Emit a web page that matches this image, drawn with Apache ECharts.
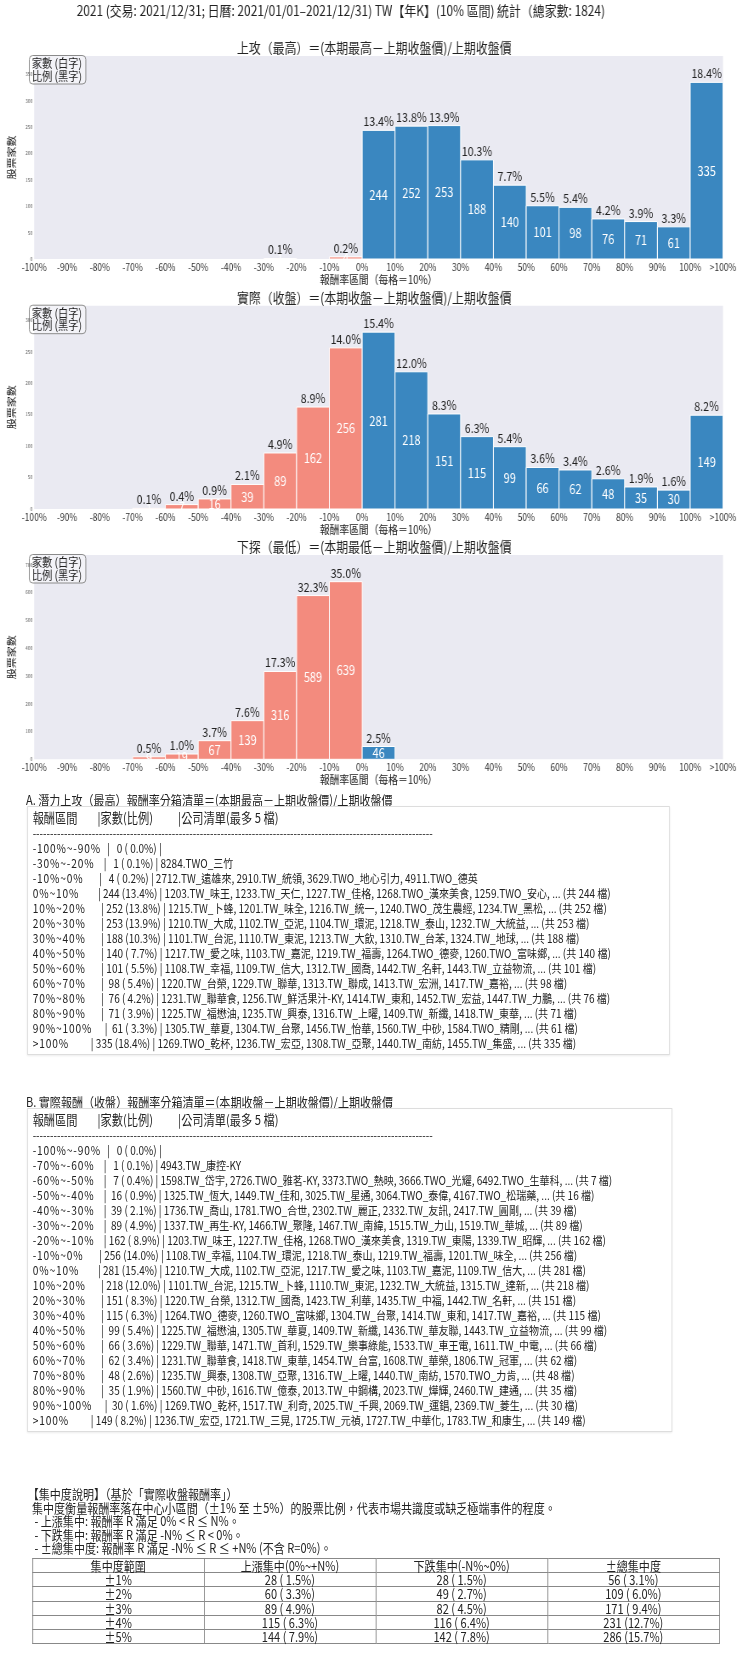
<!DOCTYPE html>
<html><head><meta charset="utf-8">
<script src="https://cdn.jsdelivr.net/npm/echarts/dist/echarts.min.js"></script>
<style>
html,body{margin:0;padding:0;background:#fff;}
body{width:740px;height:1666px;overflow:hidden;position:relative;}
#page{position:absolute;left:0;top:0;width:870.6px;height:1666px;transform:scaleX(0.85);transform-origin:0 0;font-family:'Noto Sans CJK TC','Noto Sans CJK SC',sans-serif;color:#222;}
#chart{position:absolute;left:0;top:0;width:870.6px;height:795px;}
.h{position:absolute;left:30.6px;font-size:13px;line-height:18px;white-space:pre;}
.box{position:absolute;left:32.4px;box-sizing:border-box;border:1px solid #ddd;box-shadow:0 1px 2px rgba(0,0,0,0.08);padding:2.5px 0 0 5px;font-size:11.8px;line-height:15px;white-space:pre;background:#fff;}
.box .hd{font-size:13.2px;}
.box .lb{font-size:12px;letter-spacing:1px;}
#conc{position:absolute;left:37.6px;top:1487px;font-size:13px;line-height:13.5px;white-space:pre;}
#conc div:first-child{margin-left:-5px;}
#tbl{position:absolute;left:37.6px;top:1558px;width:809px;border-collapse:collapse;font-size:13px;}
#tbl td{border:1px solid #888;height:13.2px;line-height:13px;padding:0;text-align:center;width:25%;white-space:pre;}
</style>
</head><body>
<div id="page">
<div id="chart"></div>
<div class="h" id="hA" style="top:791px"></div>
<div class="box" id="boxA" style="top:806px;width:756px;height:249px"></div>
<div class="h" id="hB" style="top:1093px"></div>
<div class="box" id="boxB" style="top:1108px;width:759px;height:324px"></div>
<div id="conc"></div>
<table id="tbl"></table>
</div>
<script>
// ---------------- data ----------------
const TOTAL = 1824;
const tickLabels = ['-100%','-90%','-80%','-70%','-60%','-50%','-40%','-30%','-20%','-10%','0%','10%','20%','30%','40%','50%','60%','70%','80%','90%','100%','>100%'];
const highCounts  = [0,0,0,0,0,0,0,1,0,4,244,252,253,188,140,101,98,76,71,61,335];
const closeCounts = [0,0,0,1,7,16,39,89,162,256,281,218,151,115,99,66,62,48,35,30,149];
const lowCounts   = [0,0,0,9,19,67,139,316,589,639,46,0,0,0,0,0,0,0,0,0,0];
const chartTitles = ['上攻（最高）＝(本期最高－上期收盤價)/上期收盤價','實際（收盤）＝(本期收盤－上期收盤價)/上期收盤價','下探（最低）＝(本期最低－上期收盤價)/上期收盤價'];
const mainTitle = '2021 (交易: 2021/12/31; 日曆: 2021/01/01–2021/12/31) TW【年K】(10% 區間) 統計（總家數: 1824)';
const xName = '報酬率區間（每格＝10%）';
const yName = '股票家數';

const listALabels = ['-100%~-90%','-30%~-20%','-10%~0%','0%~10%','10%~20%','20%~30%','30%~40%','40%~50%','50%~60%','60%~70%','70%~80%','80%~90%','90%~100%','>100%'];
const listACounts = [0,1,4,244,252,253,188,140,101,98,76,71,61,335];
const listANames = [
 '',
 '8284.TWO_三竹',
 '2712.TW_遠雄來, 2910.TW_統領, 3629.TWO_地心引力, 4911.TWO_德英',
 '1203.TW_味王, 1233.TW_天仁, 1227.TW_佳格, 1268.TWO_漢來美食, 1259.TWO_安心, ... (共 244 檔)',
 '1215.TW_卜蜂, 1201.TW_味全, 1216.TW_統一, 1240.TWO_茂生農經, 1234.TW_黑松, ... (共 252 檔)',
 '1210.TW_大成, 1102.TW_亞泥, 1104.TW_環泥, 1218.TW_泰山, 1232.TW_大統益, ... (共 253 檔)',
 '1101.TW_台泥, 1110.TW_東泥, 1213.TW_大飲, 1310.TW_台苯, 1324.TW_地球, ... (共 188 檔)',
 '1217.TW_愛之味, 1103.TW_嘉泥, 1219.TW_福壽, 1264.TWO_德麥, 1260.TWO_富味鄉, ... (共 140 檔)',
 '1108.TW_幸福, 1109.TW_信大, 1312.TW_國喬, 1442.TW_名軒, 1443.TW_立益物流, ... (共 101 檔)',
 '1220.TW_台榮, 1229.TW_聯華, 1313.TW_聯成, 1413.TW_宏洲, 1417.TW_嘉裕, ... (共 98 檔)',
 '1231.TW_聯華食, 1256.TW_鮮活果汁-KY, 1414.TW_東和, 1452.TW_宏益, 1447.TW_力鵬, ... (共 76 檔)',
 '1225.TW_福懋油, 1235.TW_興泰, 1316.TW_上曜, 1409.TW_新纖, 1418.TW_東華, ... (共 71 檔)',
 '1305.TW_華夏, 1304.TW_台聚, 1456.TW_怡華, 1560.TW_中砂, 1584.TWO_精剛, ... (共 61 檔)',
 '1269.TWO_乾杯, 1236.TW_宏亞, 1308.TW_亞聚, 1440.TW_南紡, 1455.TW_集盛, ... (共 335 檔)'
];
const listBLabels = ['-100%~-90%','-70%~-60%','-60%~-50%','-50%~-40%','-40%~-30%','-30%~-20%','-20%~-10%','-10%~0%','0%~10%','10%~20%','20%~30%','30%~40%','40%~50%','50%~60%','60%~70%','70%~80%','80%~90%','90%~100%','>100%'];
const listBCounts = [0,1,7,16,39,89,162,256,281,218,151,115,99,66,62,48,35,30,149];
const listBNames = [
 '',
 '4943.TW_康控-KY',
 '1598.TW_岱宇, 2726.TWO_雅茗-KY, 3373.TWO_熱映, 3666.TWO_光耀, 6492.TWO_生華科, ... (共 7 檔)',
 '1325.TW_恆大, 1449.TW_佳和, 3025.TW_星通, 3064.TWO_泰偉, 4167.TWO_松瑞藥, ... (共 16 檔)',
 '1736.TW_喬山, 1781.TWO_合世, 2302.TW_麗正, 2332.TW_友訊, 2417.TW_圓剛, ... (共 39 檔)',
 '1337.TW_再生-KY, 1466.TW_聚隆, 1467.TW_南緯, 1515.TW_力山, 1519.TW_華城, ... (共 89 檔)',
 '1203.TW_味王, 1227.TW_佳格, 1268.TWO_漢來美食, 1319.TW_東陽, 1339.TW_昭輝, ... (共 162 檔)',
 '1108.TW_幸福, 1104.TW_環泥, 1218.TW_泰山, 1219.TW_福壽, 1201.TW_味全, ... (共 256 檔)',
 '1210.TW_大成, 1102.TW_亞泥, 1217.TW_愛之味, 1103.TW_嘉泥, 1109.TW_信大, ... (共 281 檔)',
 '1101.TW_台泥, 1215.TW_卜蜂, 1110.TW_東泥, 1232.TW_大統益, 1315.TW_達新, ... (共 218 檔)',
 '1220.TW_台榮, 1312.TW_國喬, 1423.TW_利華, 1435.TW_中福, 1442.TW_名軒, ... (共 151 檔)',
 '1264.TWO_德麥, 1260.TWO_富味鄉, 1304.TW_台聚, 1414.TW_東和, 1417.TW_嘉裕, ... (共 115 檔)',
 '1225.TW_福懋油, 1305.TW_華夏, 1409.TW_新纖, 1436.TW_華友聯, 1443.TW_立益物流, ... (共 99 檔)',
 '1229.TW_聯華, 1471.TW_首利, 1529.TW_樂事綠能, 1533.TW_車王電, 1611.TW_中電, ... (共 66 檔)',
 '1231.TW_聯華食, 1418.TW_東華, 1454.TW_台富, 1608.TW_華榮, 1806.TW_冠軍, ... (共 62 檔)',
 '1235.TW_興泰, 1308.TW_亞聚, 1316.TW_上曜, 1440.TW_南紡, 1570.TWO_力肯, ... (共 48 檔)',
 '1560.TW_中砂, 1616.TW_億泰, 2013.TW_中鋼構, 2023.TW_燁輝, 2460.TW_建通, ... (共 35 檔)',
 '1269.TWO_乾杯, 1517.TW_利奇, 2025.TW_千興, 2069.TW_運錩, 2369.TW_菱生, ... (共 30 檔)',
 '1236.TW_宏亞, 1721.TW_三晃, 1725.TW_元禎, 1727.TW_中華化, 1783.TW_和康生, ... (共 149 檔)'
];
const headA = 'A. 潛力上攻（最高）報酬率分箱清單＝(本期最高－上期收盤價)/上期收盤價';
const headB = 'B. 實際報酬（收盤）報酬率分箱清單＝(本期收盤－上期收盤價)/上期收盤價';
const listHeader = ['報酬區間','|家數(比例)','|公司清單(最多 5 檔)'];
const concLines = ['【集中度說明】（基於「實際收盤報酬率」）','集中度衡量報酬率落在中心小區間（±1% 至 ±5%）的股票比例，代表市場共識度或缺乏極端事件的程度。',' - 上漲集中: 報酬率 R 滿足 0% < R ≤ N%。',' - 下跌集中: 報酬率 R 滿足 -N% ≤ R < 0%。',' - ±總集中度: 報酬率 R 滿足 -N% ≤ R ≤ +N% (不含 R=0%)。'];
const concHeader = ['集中度範圍','上漲集中(0%~+N%)','下跌集中(-N%~0%)','±總集中度'];
const concRanges = ['±1%','±2%','±3%','±4%','±5%'];
const concUp    = [28,60,89,115,144];
const concDown  = [28,49,82,116,142];
const concTotal = [56,109,171,231,286];

// ---------------- layout ----------------
const K = 0.85;
const FONT = "'Noto Sans CJK TC','Noto Sans CJK SC',sans-serif";
const BLUE = '#3A87C0', SALMON = '#F38B7E';
const X = v => v / K;
const gridTops = [56, 305.7, 555];
const gridHeights = [203, 203.3, 204.3];
const yMax = [385, 323, 735];
const yInt = [50, 50, 100];
const countsAll = [highCounts, closeCounts, lowCounts];
const plotL = 25.5, plotR = 723;

function pct(v){ return (v / TOTAL * 100).toFixed(1); }

function render(params, api){
  const i = api.value(0), v = api.value(1);
  if (!v) return null;
  const a = api.coord([i, v]), b = api.coord([i + 1, 0]);
  const x0 = a[0], x1 = b[0], yT = a[1], yB = b[1], cx = (x0 + x1) / 2;
  return {type:'group', children:[
    {type:'rect', shape:{x:x0, y:yT, width:x1 - x0, height:yB - yT}, style:{fill: i < 10 ? SALMON : BLUE, stroke:'#fff', lineWidth:1}},
    {type:'text', z2:5, style:{text: pct(v) + '%', x:cx, y:yT - 2.5, align:'center', verticalAlign:'bottom', fill:'#222', fontSize:12.5, fontFamily:FONT}},
    {type:'text', z2:5, style:{text: String(v), x:cx, y:(yT + yB) / 2, align:'center', verticalAlign:'middle', fill:'#fff', fontSize:13, fontFamily:FONT}}
  ]};
}

const grids = [], xAxes = [], yAxes = [], series = [], graphics = [];
for (let k = 0; k < 3; k++){
  grids.push({left:X(plotL), width:X(plotR - plotL), top:gridTops[k], height:gridHeights[k], show:true, backgroundColor:'#EAEAF2', borderWidth:0});
  xAxes.push({gridIndex:k, type:'value', min:0, max:21, interval:1,
    axisLine:{show:false}, axisTick:{show:false}, splitLine:{show:false},
    axisLabel:{formatter:v => tickLabels[v] || '', fontSize:10, color:'#333', margin:3, fontFamily:FONT},
    name:xName, nameLocation:'middle', nameGap:15, nameTextStyle:{fontSize:11.5, color:'#222', fontFamily:FONT}});
  const yi = yInt[k];
  yAxes.push({gridIndex:k, type:'value', min:0, max:yMax[k], interval:yi,
    axisLine:{show:false}, axisTick:{show:false}, splitLine:{show:false},
    axisLabel:{formatter:v => (v % yi === 0 ? String(v) : ''), fontSize:5, color:'#555', margin:2, fontFamily:FONT},
    name:yName, nameLocation:'middle', nameGap:17, nameRotate:90, nameTextStyle:{fontSize:11, color:'#222', fontFamily:FONT}});
  series.push({type:'custom', xAxisIndex:k, yAxisIndex:k, renderItem:render, clip:false,
    encode:{x:0, y:1}, data: countsAll[k].map((c, i) => [i, c])});
  graphics.push({type:'text', x:X((plotL + plotR) / 2), y:gridTops[k] - 8,
    style:{text:chartTitles[k], x:0, y:0, align:'center', verticalAlign:'middle', fill:'#222', fontSize:14, fontFamily:FONT}});
  graphics.push({type:'group', x:X(29.3), y:gridTops[k] - 0.5, children:[
    {type:'rect', shape:{x:0, y:0, width:X(56.5), height:28.5, r:4}, style:{fill:'rgba(255,255,255,0.45)', stroke:'#8a8a8a', lineWidth:1}},
    {type:'text', style:{text:'家數 (白字)\n比例 (黑字)', x:3, y:14.3, verticalAlign:'middle', lineHeight:12.7, fill:'#222', fontSize:12, fontFamily:FONT}}
  ]});
}
graphics.push({type:'text', x:X(340.8), y:10.6, style:{text:mainTitle, x:0, y:0, align:'center', verticalAlign:'middle', fill:'#222', fontSize:14, fontFamily:FONT}});

const chart = echarts.init(document.getElementById('chart'), null, {renderer:'canvas'});
chart.setOption({animation:false, grid:grids, xAxis:xAxes, yAxis:yAxes, series:series, graphic:graphics});

// ---------------- text lists ----------------
function esc(s){ return s.replace(/&/g,'&amp;').replace(/</g,'&lt;').replace(/>/g,'&gt;'); }
function rowHtml(lbl, c, names){
  return '<span class="lb">' + esc(lbl.padEnd(12, ' ')) + '</span>' +
    esc('| ' + String(c).padStart(3, ' ') + ' (' + pct(c).padStart(4, ' ') + '%) | ' + names);
}
const headerLine = '<span class="hd">' + esc(listHeader[0] + ' '.repeat(8) + listHeader[1] + ' '.repeat(10) + listHeader[2]) + '</span>';
const dashLine = '-'.repeat(115);
function fillBox(id, labels, counts, names){
  const lines = [headerLine, dashLine].concat(labels.map((l, i) => rowHtml(l, counts[i], names[i])));
  document.getElementById(id).innerHTML = lines.join('\n');
}
document.getElementById('hA').textContent = headA;
document.getElementById('hB').textContent = headB;
fillBox('boxA', listALabels, listACounts, listANames);
fillBox('boxB', listBLabels, listBCounts, listBNames);
document.getElementById('conc').innerHTML = concLines.map(l => '<div>' + esc(l) + '</div>').join('');
function cell(v){ return v + ' (' + pct(v).padStart(4, ' ') + '%)'; }
let html = '<tr>' + concHeader.map(h => '<td>' + h + '</td>').join('') + '</tr>';
concRanges.forEach((r, i) => {
  html += '<tr><td>' + r + '</td><td>' + cell(concUp[i]) + '</td><td>' + cell(concDown[i]) + '</td><td>' + cell(concTotal[i]) + '</td></tr>';
});
document.getElementById('tbl').innerHTML = html;
</script>
</body></html>
